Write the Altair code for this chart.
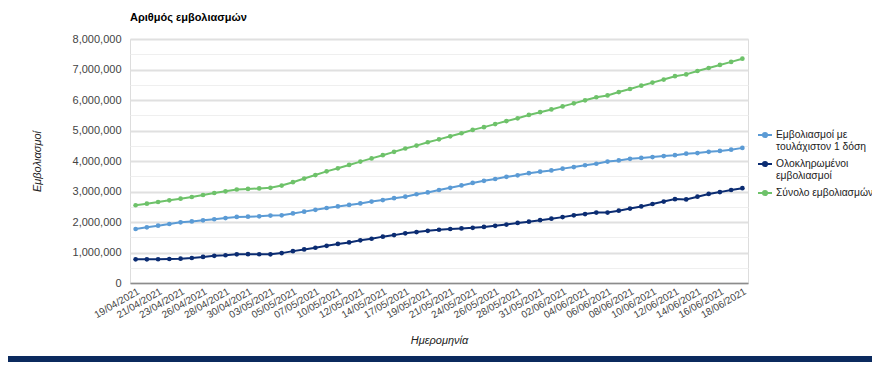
import altair as alt
import pandas as pd

dates = [
    "19/04/2021", "20/04/2021", "21/04/2021", "22/04/2021", "23/04/2021", "24/04/2021",
    "26/04/2021", "27/04/2021", "28/04/2021", "29/04/2021", "30/04/2021",
    "01/05/2021", "03/05/2021", "04/05/2021", "05/05/2021", "06/05/2021", "07/05/2021",
    "08/05/2021", "10/05/2021", "11/05/2021", "12/05/2021", "13/05/2021", "14/05/2021",
    "15/05/2021", "17/05/2021", "18/05/2021", "19/05/2021", "20/05/2021", "21/05/2021",
    "22/05/2021", "24/05/2021", "25/05/2021", "26/05/2021", "27/05/2021", "28/05/2021",
    "29/05/2021", "31/05/2021",
    "01/06/2021", "02/06/2021", "03/06/2021", "04/06/2021", "05/06/2021", "06/06/2021",
    "07/06/2021", "08/06/2021", "09/06/2021", "10/06/2021", "11/06/2021", "12/06/2021",
    "13/06/2021", "14/06/2021", "15/06/2021", "16/06/2021", "17/06/2021", "18/06/2021",
]

tick_labels = [
    "19/04/2021", "21/04/2021", "23/04/2021", "26/04/2021", "28/04/2021", "30/04/2021",
    "03/05/2021", "05/05/2021", "07/05/2021", "10/05/2021", "12/05/2021", "14/05/2021",
    "17/05/2021", "19/05/2021", "21/05/2021", "24/05/2021", "26/05/2021", "28/05/2021",
    "31/05/2021", "02/06/2021", "04/06/2021", "06/06/2021", "08/06/2021", "10/06/2021",
    "12/06/2021", "14/06/2021", "16/06/2021", "18/06/2021",
]

series_names = [
    "Εμβολιασμοί με τουλάχιστον 1 δόση",
    "Ολοκληρωμένοι εμβολιασμοί",
    "Σύνολο εμβολιασμών",
]

first_dose = [
    1770000, 1825000, 1880000, 1935000, 1990000, 2020000, 2055000, 2090000, 2130000, 2165000,
    2175000, 2185000, 2210000, 2220000, 2280000, 2340000, 2400000, 2460000, 2510000, 2560000,
    2610000, 2670000, 2720000, 2780000, 2830000, 2910000, 2970000, 3050000, 3120000, 3200000,
    3280000, 3350000, 3410000, 3480000, 3530000, 3600000, 3650000, 3690000, 3750000, 3800000,
    3860000, 3910000, 3980000, 4020000, 4070000, 4100000, 4130000, 4160000, 4190000, 4240000,
    4260000, 4300000, 4330000, 4370000, 4430000,
]

completed = [
    776000, 777000, 779000, 787000, 798000, 820000, 855000, 890000, 910000, 940000,
    945000, 943000, 940000, 980000, 1045000, 1100000, 1155000, 1220000, 1280000, 1330000,
    1400000, 1450000, 1520000, 1570000, 1630000, 1670000, 1710000, 1745000, 1770000, 1790000,
    1810000, 1840000, 1875000, 1915000, 1970000, 2010000, 2060000, 2110000, 2160000, 2220000,
    2260000, 2310000, 2310000, 2370000, 2440000, 2510000, 2590000, 2670000, 2750000, 2740000,
    2830000, 2920000, 2980000, 3050000, 3110000,
]

total = [
    2550000, 2600000, 2655000, 2710000, 2765000, 2820000, 2885000, 2950000, 3005000, 3065000,
    3085000, 3100000, 3120000, 3195000, 3305000, 3425000, 3540000, 3660000, 3760000, 3870000,
    3980000, 4085000, 4190000, 4300000, 4410000, 4505000, 4615000, 4710000, 4810000, 4910000,
    5020000, 5110000, 5210000, 5310000, 5400000, 5510000, 5600000, 5690000, 5790000, 5890000,
    5990000, 6090000, 6150000, 6260000, 6360000, 6470000, 6570000, 6670000, 6780000, 6840000,
    6950000, 7050000, 7150000, 7250000, 7355000,
]

y_ticks = [0, 500000, 1000000, 1500000, 2000000, 2500000, 3000000, 3500000, 4000000,
           4500000, 5000000, 5500000, 6000000, 6500000, 7000000, 7500000, 8000000]

colors = ["#5b9bd5", "#0b2c72", "#6ec26a"]

rows = []
for name, vals in zip(series_names, [first_dose, completed, total]):
    for i, (d, v) in enumerate(zip(dates, vals)):
        rows.append({"date": d, "series": name, "value": v, "idx": i})
df = pd.DataFrame(rows)

FONT = "Liberation Sans"

legend_expr = (
    "datum.label == 'Εμβολιασμοί με τουλάχιστον 1 δόση' ? ['Εμβολιασμοί με', 'τουλάχιστον 1 δόση'] : "
    "datum.label == 'Ολοκληρωμένοι εμβολιασμοί' ? ['Ολοκληρωμένοι', 'εμβολιασμοί'] : datum.label"
)

lines = alt.Chart(df).mark_line(
    strokeWidth=2,
    point=alt.OverlayMarkDef(filled=True, size=22),
).encode(
    x=alt.X(
        "date:O",
        sort=dates,
        axis=alt.Axis(
            values=tick_labels,
            labelAngle=-30,
            labelAlign="right",
            labelBaseline="top",
            labelPadding=3,
            labelFontSize=10,
            labelColor="#444444",
            labelFont=FONT,
            ticks=False,
            domainColor="#8c8c8c",
            domainWidth=1.5,
            grid=False,
            title="Ημερομηνία",
            titleFont=FONT,
            titleFontSize=11,
            titleFontStyle="italic",
            titleFontWeight="normal",
            titleColor="#222222",
            titleX=309,
            titleY=57,
            titleBaseline="middle",
            titleAlign="center",
        ),
    ),
    y=alt.Y(
        "value:Q",
        scale=alt.Scale(domain=[0, 8000000]),
        axis=alt.Axis(
            values=y_ticks,
            labelExpr="datum.value % 1000000 === 0 ? format(datum.value, ',') : ''",
            labelFontSize=11,
            labelColor="#444444",
            labelFont=FONT,
            labelPadding=9,
            ticks=False,
            domain=False,
            grid=True,
            gridColor={"condition": {"test": "datum.value % 1000000 === 0", "value": "#e0e0e0"}, "value": "#efefef"},
            gridWidth={"condition": {"test": "datum.value % 1000000 === 0", "value": 2}, "value": 1},
            title="Εμβολιασμοί",
            titleFont=FONT,
            titleFontSize=11,
            titleFontStyle="italic",
            titleFontWeight="normal",
            titleColor="#222222",
            titleX=-93,
            titleY=122,
            titleAlign="center",
            titleBaseline="middle",
        ),
    ),
    color=alt.Color(
        "series:N",
        scale=alt.Scale(domain=series_names, range=colors),
        legend=alt.Legend(
            title=None,
            orient="none",
            legendX=627,
            legendY=88,
            padding=0,
            symbolType="M-1,0H1M-0.3,0A0.3,0.3,0,1,1,0.3,0A0.3,0.3,0,1,1,-0.3,0Z",
            symbolSize=196,
            symbolStrokeWidth=2,
            labelFont=FONT,
            labelFontSize=10.3,
            labelColor="#222222",
            labelLimit=0,
            labelOffset=3,
            labelExpr=legend_expr,
            rowPadding=3,
        ),
    ),
    order="idx:Q",
)

band = alt.Chart(pd.DataFrame({"a": [0]})).mark_rect(color="#0b2a5e").encode(
    x=alt.value(-122), x2=alt.value(742), y=alt.value(317), y2=alt.value(323)
)

chart = alt.layer(lines, band).properties(
    width=618,
    height=244,
    padding={"left": 122, "top": 31, "right": 124, "bottom": 79},
    autosize=alt.AutoSizeParams(type="none"),
    title=alt.Title(
        "Αριθμός εμβολιασμών",
        anchor="start",
        frame="group",
        font=FONT,
        fontSize=11,
        fontWeight="bold",
        color="#000000",
        offset=10,
    ),
).configure_view(stroke=None).configure(background="white")

chart.save("out.html", embed_options={"renderer": "svg", "actions": False})
